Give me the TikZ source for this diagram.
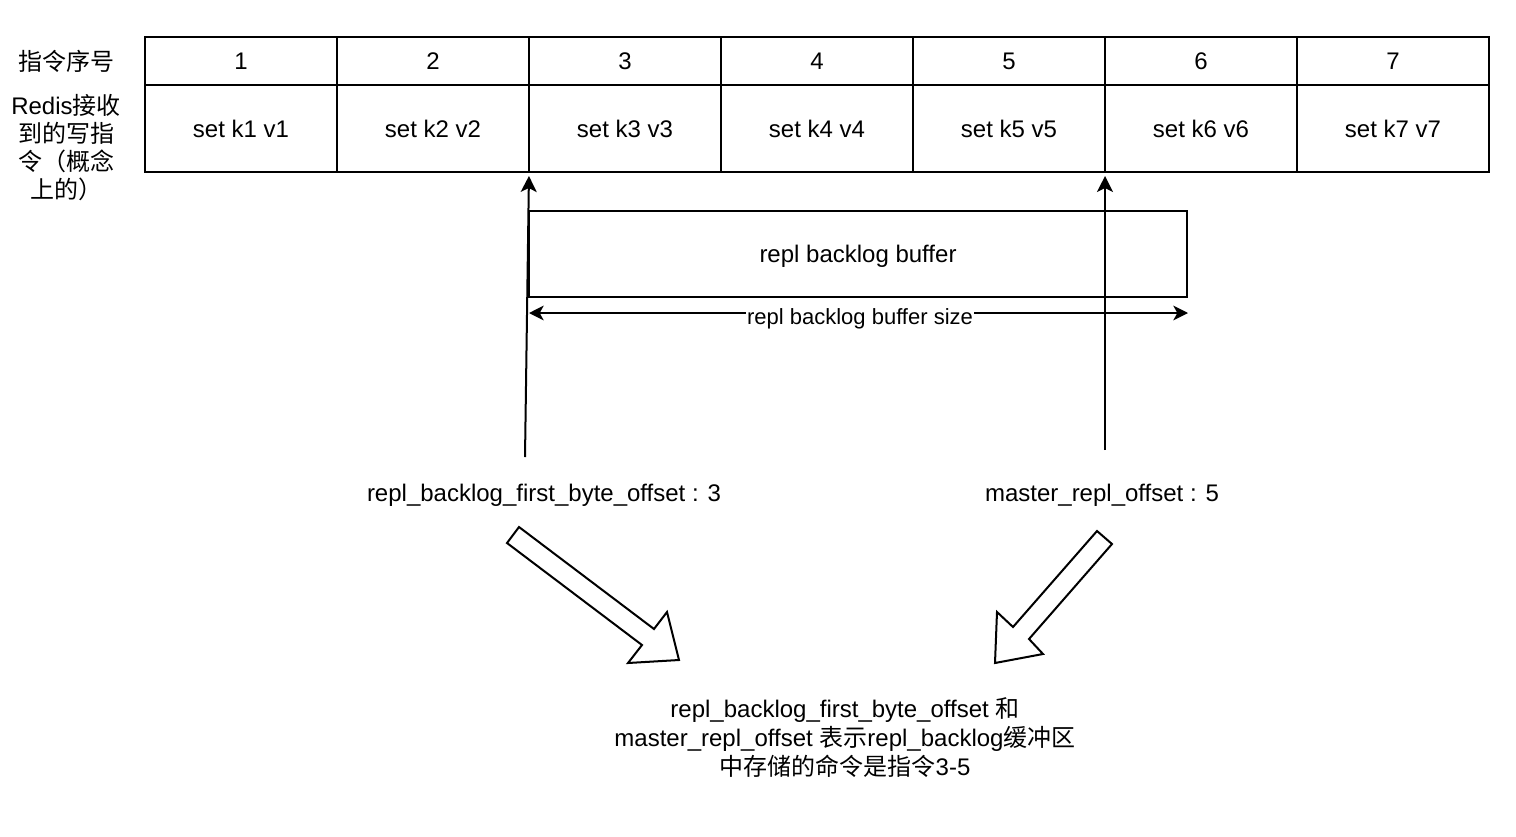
\documentclass[tikz,border=0pt]{standalone}
\usepackage{fontspec}
\setmainfont{Liberation Sans}
\newfontfamily\cjk{Noto Sans CJK SC}
\usetikzlibrary{arrows.meta}
\begin{document}
\begin{tikzpicture}[x=0.75pt,y=-0.75pt,
  every node/.style={font=\fontsize{18}{21.6}\selectfont},
  hcell/.style={draw,line width=1.5pt,minimum width=144pt,minimum height=36pt,inner sep=0pt,outer sep=0pt},
  bcell/.style={draw,line width=1.5pt,minimum width=144pt,minimum height=65.25pt,inner sep=0pt,outer sep=0pt},
  bufbox/.style={draw,line width=1.5pt,minimum width=493.5pt,minimum height=64.5pt,inner sep=0pt,outer sep=0pt},
  conn/.style={line width=1.5pt,shorten >=3pt,-{Stealth[length=12pt,width=12pt,inset=3pt]}},
  dconn/.style={line width=1.5pt,{Stealth[length=11pt,width=11pt,inset=3pt]}-{Stealth[length=11pt,width=11pt,inset=3pt]}},
  blockarrow/.style={draw,line width=1.5pt,line join=miter,fill=white},
  lbl/.style={inner sep=0pt,align=center}
]
\useasboundingbox (0,0) rectangle (1516,836);
\foreach \i in {1,...,7}{
  \node[hcell] (h\i) at ({49+192*\i},61) {\i};
  \node[bcell] (b\i) at ({49+192*\i},128.5) {set k\i\ v\i};
}
\node[lbl] (rh) at (66,61) {\cjk 指令序号};
\node[lbl,font=\fontsize{18}{20.8}\selectfont] (rb) at (66,147.5) {Redis{\cjk 接收}\\{\cjk 到的写指}\\{\cjk 令（概念}\\{\cjk 上的）}};

\node[bufbox] (buf) at (858,254) {};
\node[lbl] (buftxt) at (858,256) {repl backlog buffer};
\coordinate (sl) at (529,313);
\coordinate (sr) at (1188,313);
\draw[dconn] (sl) -- (sr);
\node[fill=white,inner sep=1pt,font=\fontsize{16.5}{19}\selectfont] (sizelbl) at (860,319) {repl backlog buffer size};

\coordinate (lt) at (525,457);
\coordinate (rt) at (1105,450);
\draw[conn] (lt) -- (b3.south west);
\draw[conn] (rt) -- (b6.south west);

\node[lbl] (l1) at (544,495) {repl\_backlog\_first\_byte\_offset : 3};
\node[lbl] (l2) at (1102,495) {master\_repl\_offset : 5};

\draw[blockarrow] (507,543) -- (519,527) -- (654,629) -- (667,612) -- (679,660) -- (628,663) -- (642,645) -- cycle;
\draw[blockarrow] (1097,531) -- (1112,544) -- (1029,639) -- (1043,654) -- (995,663) -- (997,612) -- (1013,627) -- cycle;

\node[lbl,font=\fontsize{18}{21.75}\selectfont] (note) at (845,738) {repl\_backlog\_first\_byte\_offset {\cjk 和}\\master\_repl\_offset {\cjk 表示}repl\_backlog{\cjk 缓冲区}\\{\cjk 中存储的命令是指令}3-5};
\end{tikzpicture}
\end{document}
